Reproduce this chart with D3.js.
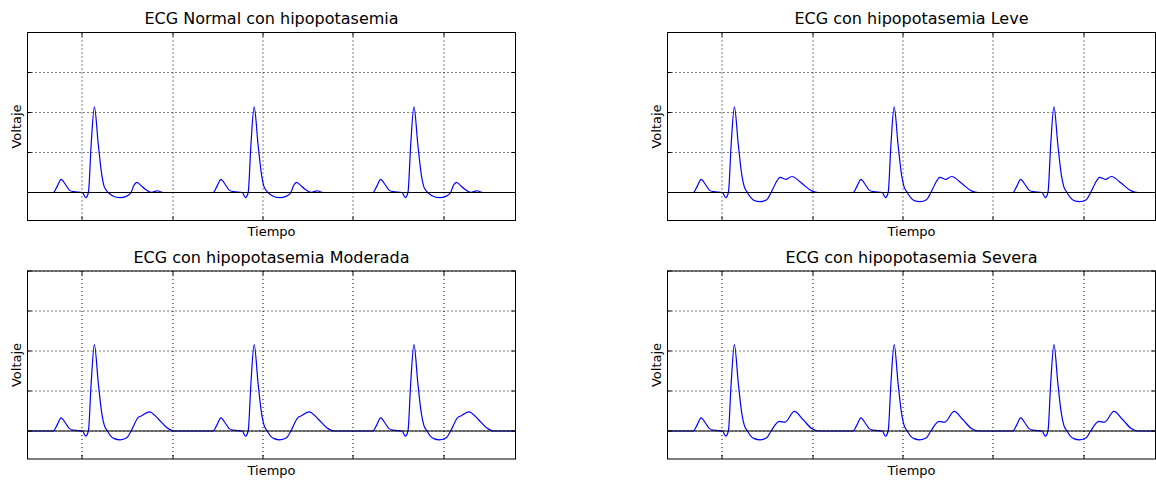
<!DOCTYPE html>
<html>
<head>
<meta charset="utf-8">
<script src="https://cdn.jsdelivr.net/npm/d3@7"></script>
<style>
body{margin:0;background:#fff;}
text{font-family:"DejaVu Sans",sans-serif;fill:#000;}
</style>
</head>
<body>
<script>
// panel titles
var titles = ["ECG Normal con hipopotasemia","ECG con hipopotasemia Leve",
              "ECG con hipopotasemia Moderada","ECG con hipopotasemia Severa"];

// time of each R peak (s)
var rPeaks = [0.370, 1.254, 2.138];

// one beat, time relative to R peak (s) and voltage
var beatT = [
  [-0.227,-0.205,-0.184,-0.160,-0.138,-0.116,-0.066,-0.048,-0.033,-0.018,0,0.022,0.041,0.055,0.077,0.100,0.142,0.179,0.203,0.219,0.235,0.254,0.280,0.313,0.335,0.350,0.365,0.381],
  [-0.227,-0.205,-0.184,-0.160,-0.138,-0.116,-0.066,-0.048,-0.033,-0.018,0,0.022,0.041,0.055,0.072,0.090,0.110,0.142,0.179,0.203,0.227,0.253,0.284,0.318,0.373,0.428,0.465],
  [-0.227,-0.205,-0.184,-0.160,-0.138,-0.116,-0.066,-0.048,-0.033,-0.018,0,0.022,0.041,0.055,0.072,0.090,0.110,0.142,0.179,0.203,0.243,0.262,0.304,0.354,0.400,0.446],
  [-0.227,-0.205,-0.184,-0.160,-0.138,-0.116,-0.066,-0.048,-0.033,-0.018,0,0.022,0.041,0.055,0.072,0.090,0.110,0.142,0.179,0.203,0.249,0.280,0.332,0.381,0.428,0.465]
];
var beatV = [
  [0,0.08,0.165,0.10,0.03,0.01,0,-0.065,0,0.59,1.07,0.59,0.22,0.07,0,-0.04,-0.065,-0.045,0,0.09,0.127,0.095,0.044,0.003,0.015,0.022,0.01,0],
  [0,0.08,0.165,0.10,0.03,0.01,0,-0.065,0,0.59,1.07,0.59,0.22,0.07,0,-0.06,-0.10,-0.115,-0.09,0,0.11,0.19,0.165,0.20,0.115,0.02,0],
  [0,0.08,0.165,0.10,0.03,0.01,0,-0.065,0,0.59,1.08,0.59,0.22,0.07,0,-0.06,-0.095,-0.11,-0.085,0,0.17,0.19,0.24,0.15,0.045,0],
  [0,0.08,0.165,0.10,0.03,0.01,0,-0.065,0,0.59,1.08,0.59,0.22,0.07,0,-0.06,-0.095,-0.11,-0.085,0,0.12,0.11,0.245,0.14,0.03,0]
];

var xTicks = [0.3,0.8,1.3,1.8,2.3];
var yTicks = [0,0.5,1,1.5,2];

var W = 488, H = 188;
var origins = [[27.5,32.5],[667.5,32.5],[27.5,271],[667.5,271]];

var svg = d3.select("body").append("svg").attr("width",1156).attr("height",480);

var x = d3.scaleLinear().domain([0,2.7]).range([0,W]);
var y = d3.scaleLinear().domain([-0.35,2]).range([H,0]);

var line = d3.line()
    .x(function(d){return x(d[0]);})
    .y(function(d){return y(d[1]);})
    .curve(d3.curveMonotoneX);

titles.forEach(function(title,p){
  var g = svg.append("g").attr("transform","translate("+origins[p][0]+","+origins[p][1]+")");

  // dotted grid
  g.selectAll("line.gx").data(xTicks).enter().append("line")
      .attr("class","gx")
      .attr("x1",function(d){return Math.round(x(d))+0.5;}).attr("x2",function(d){return Math.round(x(d))+0.5;})
      .attr("y1",0).attr("y2",H)
      .attr("stroke","#000").attr("stroke-width",1).attr("stroke-dasharray","1,3");
  g.selectAll("line.gy").data(yTicks).enter().append("line")
      .attr("class","gy")
      .attr("y1",function(d){return Math.round(y(d));}).attr("y2",function(d){return Math.round(y(d));})
      .attr("x1",0).attr("x2",W)
      .attr("stroke","#000").attr("stroke-width",1).attr("stroke-dasharray","1,3");

  // trace
  var pts = [[0,0]];
  rPeaks.forEach(function(r){
    beatT[p].forEach(function(t,i){pts.push([r+t,beatV[p][i]]);});
  });
  pts.push([2.7,0]);
  g.append("path").datum(pts)
      .attr("d",line)
      .attr("fill","none")
      .attr("stroke","#0000ff")
      .attr("stroke-width",1.2);

  // zero line
  g.append("line")
      .attr("x1",0).attr("x2",W)
      .attr("y1",y(0)).attr("y2",y(0))
      .attr("stroke","#000").attr("stroke-width",1);

  // inward ticks on all sides
  var tk = 4;
  g.selectAll("line.tb").data(xTicks).enter().append("line")
      .attr("x1",function(d){return Math.round(x(d))+0.5;}).attr("x2",function(d){return Math.round(x(d))+0.5;})
      .attr("y1",H).attr("y2",H-tk).attr("stroke","#000");
  g.selectAll("line.tt").data(xTicks).enter().append("line")
      .attr("x1",function(d){return Math.round(x(d))+0.5;}).attr("x2",function(d){return Math.round(x(d))+0.5;})
      .attr("y1",0).attr("y2",tk).attr("stroke","#000");
  g.selectAll("line.tl").data(yTicks).enter().append("line")
      .attr("y1",function(d){return Math.round(y(d));}).attr("y2",function(d){return Math.round(y(d));})
      .attr("x1",0).attr("x2",tk).attr("stroke","#000");
  g.selectAll("line.tr").data(yTicks).enter().append("line")
      .attr("y1",function(d){return Math.round(y(d));}).attr("y2",function(d){return Math.round(y(d));})
      .attr("x1",W).attr("x2",W-tk).attr("stroke","#000");

  // frame
  g.append("rect").attr("x",0).attr("y",0).attr("width",W).attr("height",H)
      .attr("fill","none").attr("stroke","#000").attr("stroke-width",1);

  g.append("text")
      .attr("x",W/2).attr("y",-8.5)
      .attr("text-anchor","middle")
      .attr("font-size","16px")
      .text(title);
  g.append("text")
      .attr("x",W/2).attr("y",H+15.5)
      .attr("text-anchor","middle")
      .attr("font-size","13px")
      .text("Tiempo");
  g.append("text")
      .attr("transform","translate(-7,"+(H/2)+") rotate(-90)")
      .attr("text-anchor","middle")
      .attr("font-size","13px")
      .text("Voltaje");
});
</script>
</body>
</html>
